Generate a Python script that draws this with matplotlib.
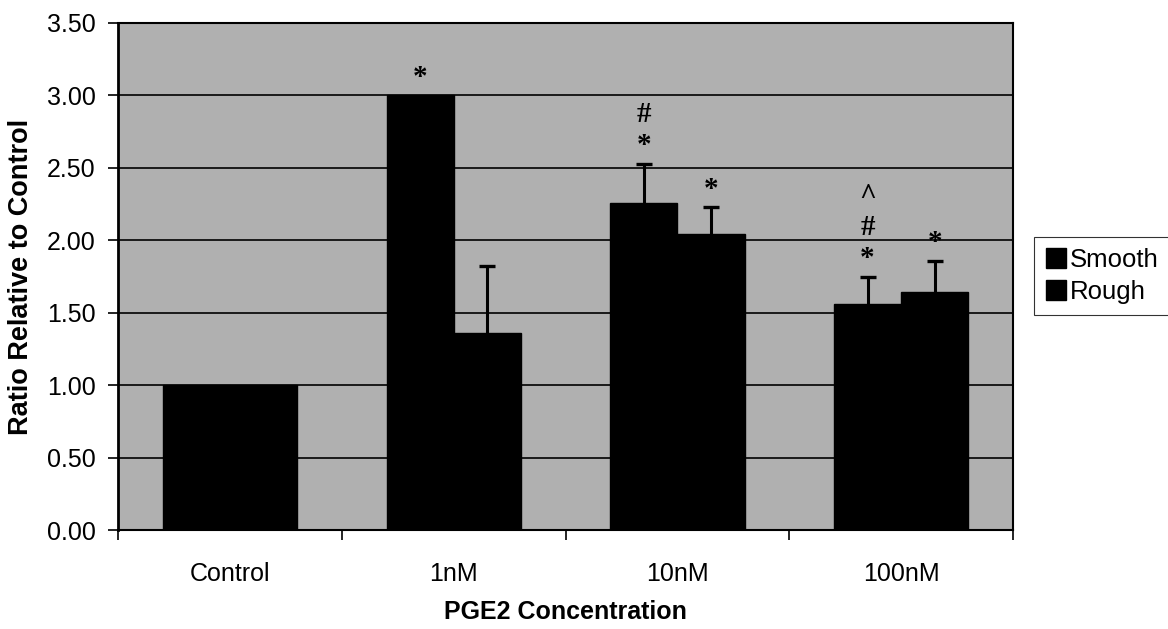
import numpy as np
import matplotlib
matplotlib.use("Agg")
import matplotlib.pyplot as plt
from matplotlib.patches import Patch

categories = ["Control", "1nM", "10nM", "100nM"]
smooth = [1.00, 3.00, 2.26, 1.56]
rough = [1.00, 1.36, 2.04, 1.64]
smooth_err = [0.0, 0.0, 0.27, 0.19]
rough_err = [0.0, 0.46, 0.19, 0.22]
smooth_marks = ["", "*", "#\n*", "^\n#\n*"]
rough_marks = ["", "", "*", "*"]

plt.rcParams["font.family"] = ["Liberation Sans", "DejaVu Sans"]

fig = plt.figure(figsize=(11.68, 6.29), dpi=100)
ax = fig.add_axes([118 / 1168, 1 - 530 / 629, (1013 - 118) / 1168, (530 - 23) / 629])
ax.set_facecolor("#b0b0b0")

x = np.arange(len(categories))
w = 0.3
ax.bar(x - w / 2, smooth, w, color="black", edgecolor="black", label="Smooth", zorder=2)
ax.bar(x + w / 2, rough, w, color="black", edgecolor="black", label="Rough", zorder=2)

for pos, vals, errs in [(x - w / 2, smooth, smooth_err), (x + w / 2, rough, rough_err)]:
    vals = np.array(vals)
    errs = np.array(errs)
    m = errs > 0
    eb = ax.errorbar(pos[m], vals[m], yerr=[np.zeros(m.sum()), errs[m]], fmt="none",
                     ecolor="black", elinewidth=2.2, capsize=6, capthick=2.4, zorder=3)
    eb[1][0].set_visible(False)  # no cap on the bar top

# significance marks above the bars
for pos, vals, errs, marks in [(x - w / 2, smooth, smooth_err, smooth_marks),
                               (x + w / 2, rough, rough_err, rough_marks)]:
    for p, v, e, s in zip(pos, vals, errs, marks):
        if s:
            ax.annotate(s, (p, v + e), xytext=(0, 3), textcoords="offset points",
                        ha="center", va="bottom", fontsize=21, fontweight="bold",
                        family=["Liberation Serif"], linespacing=1.2, zorder=4)

ax.set_xlim(-0.5, 3.5)
ax.set_ylim(0, 3.5)
ax.set_yticks(np.arange(0, 3.51, 0.5))
ax.set_yticklabels([f"{v:.2f}" for v in np.arange(0, 3.51, 0.5)])
ax.set_xticks(x)
ax.set_xticklabels(categories)
ax.set_xticks(np.arange(-0.5, 3.6, 1), minor=True)
ax.tick_params(axis="x", which="major", length=0, pad=23, labelsize=18)
ax.tick_params(axis="x", which="minor", length=7, width=1.2, direction="out")
ax.tick_params(axis="y", length=7, width=1.2, pad=9, labelsize=18)

ax.yaxis.grid(True, color="black", lw=1.2)
ax.set_axisbelow(True)
for sp in ax.spines.values():
    sp.set_color("black")
    sp.set_linewidth(1.5)
ax.spines["left"].set_linewidth(2)

ax.set_ylabel("Ratio Relative to Control", fontsize=19.5, fontweight="bold", labelpad=9)
ax.set_xlabel("PGE2 Concentration", fontsize=18, fontweight="bold", labelpad=10)

handles = [Patch(facecolor="black", edgecolor="black", label="Smooth"),
           Patch(facecolor="black", edgecolor="black", label="Rough")]
leg = fig.legend(handles=handles, loc="center left", bbox_to_anchor=(1034 / 1168, 1 - 276 / 629),
                 fontsize=18.5, frameon=True, fancybox=False, handlelength=0.8, handleheight=0.8,
                 handletextpad=0.15, borderpad=0.45, labelspacing=0.3, borderaxespad=0)
leg.get_frame().set_edgecolor("black")
leg.get_frame().set_linewidth(0.8)

fig.savefig("out.png", dpi=100)
